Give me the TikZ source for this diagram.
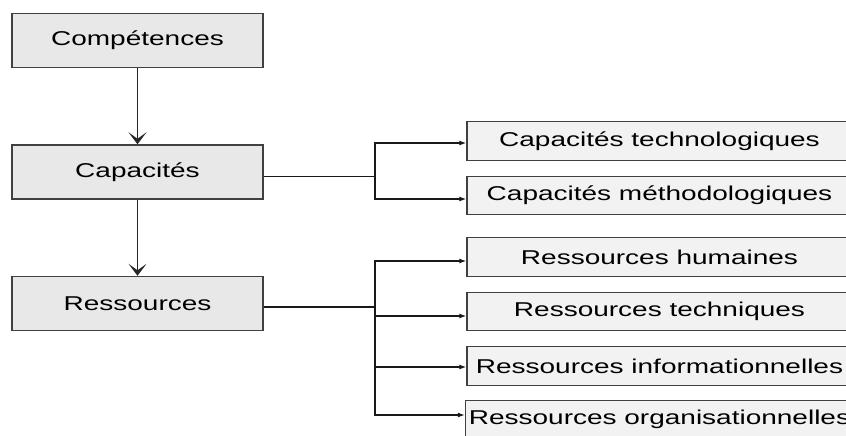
\documentclass[tikz,border=0pt]{standalone}
\usepackage{fontspec}
\setmainfont{Liberation Sans}[FakeStretch=1.4]
\usetikzlibrary{arrows.meta}

\begin{document}
\begin{tikzpicture}[x=1pt,y=-1pt,
	mainbox/.style={draw=black!75,line width=1.4pt,fill=black!9,minimum width=251pt,minimum height=54pt,font=\fontsize{20}{22}\selectfont},
	subbox/.style={draw=black!75,line width=1.4pt,fill=black!5,minimum width=385pt,minimum height=38.5pt,font=\fontsize{20}{22}\selectfont},
	down/.style={-{Stealth[length=12pt,width=18pt,inset=6.5pt]},line width=1.3pt,draw=black!85},
	branch/.style={-{Latex[length=7pt,width=5pt]},line width=1.2pt,draw=black!90}]
		\useasboundingbox (0,0) rectangle (846,436);
		\clip (0,0) rectangle (846,436);
		\node[mainbox] (comp) at (137.5,40.5) {Compétences};
		\node[mainbox] (cap) at (137.5,172) {Capacités};
		\node[mainbox] (res) at (137.5,303.5) {Ressources};
		\node[subbox] (techno) at (659.5,141) {Capacités technologiques};
		\node[subbox] (metho) at (659.5,195.5) {Capacités méthodologiques};
		\node[subbox] (hum) at (659.5,257) {Ressources humaines};
		\node[subbox] (techn) at (659.5,311.5) {Ressources techniques};
		\node[subbox] (info) at (659.5,366) {Ressources informationnelles};
		\node[subbox] (orga) at (659.5,419.5) {Ressources organisationnelles};
		\coordinate (capfork) at (375,176.5);
		\coordinate (resfork) at (375,307);
		\draw [down] (comp) to (cap);
		\draw [down] (cap) to (res);
		\draw [line width=1.2pt,draw=black!90] ([yshift=-4.5pt]cap.east) to (capfork);
		\draw [line width=1.2pt,draw=black!90] ([yshift=-3.5pt]res.east) to (resfork);
		\draw [branch] (capfork) |- ([yshift=-2pt]techno.west);
		\draw [branch] (capfork) |- ([yshift=-3.5pt]metho.west);
		\draw [branch] (resfork) |- ([yshift=-4pt]hum.west);
		\draw [branch] (resfork) |- ([yshift=-4.5pt]techn.west);
		\draw [branch] (resfork) |- ([yshift=-1pt]info.west);
		\draw [branch] (resfork) |- ([yshift=4.5pt]orga.west);
	\end{tikzpicture}
\end{document}
